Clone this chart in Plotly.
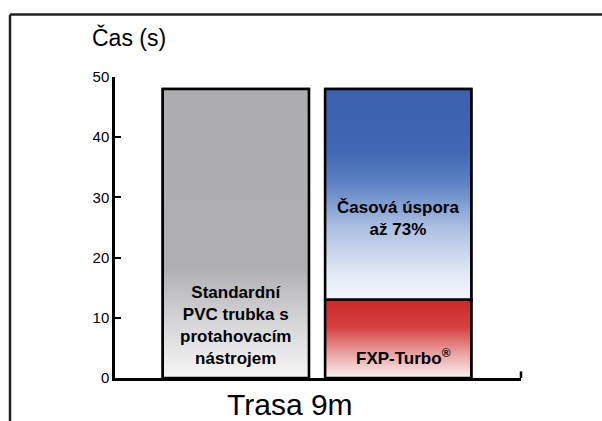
import plotly.graph_objects as go

# ---- data ----
bar_positions = [0, 1]
bar_labels = ["Standardní<br>PVC trubka s<br>protahovacím<br>nástrojem", "FXP-Turbo<sup>®</sup>"]
pvc_time = [48]          # seconds, standard PVC tube with pulling tool
fxp_time = [13]          # seconds, FXP-Turbo
saving_label = "Časová úspora<br>až 73%"
y_ticks = [0, 10, 20, 30, 40, 50]
y_title = "Čas (s)"
x_title = "Trasa 9m"

BAR_W = 0.9
FONT = "Liberation Sans, Arial, sans-serif"

gray_scale = [[0, "#f6f6f7"], [0.2, "#d4d4d6"], [0.38, "#b0b0b3"], [1, "#adadb0"]]
blue_scale = [[0, "#f4f7fc"], [0.12, "#e3eaf5"], [0.35, "#a9bde0"], [0.55, "#5f82c4"],
              [0.7, "#4068b4"], [1, "#3a60ae"]]
red_scale = [[0, "#fbf0f0"], [0.3, "#eaa6a6"], [0.65, "#d5403f"], [1, "#cc2828"]]

fig = go.Figure()

saving = [pvc_time[0] - fxp_time[0]]

# base bars
fig.add_trace(go.Bar(x=[bar_positions[0]], y=pvc_time, width=BAR_W,
                     marker=dict(color="#adadb0", line=dict(color="black", width=2.5)),
                     showlegend=False, hoverinfo="skip"))
fig.add_trace(go.Bar(x=[bar_positions[1]], y=fxp_time, width=BAR_W,
                     marker=dict(color="#cc2828", line=dict(color="black", width=2.5)),
                     showlegend=False, hoverinfo="skip"))
fig.add_trace(go.Bar(x=[bar_positions[1]], y=saving, base=fxp_time, width=BAR_W,
                     marker=dict(color="#3a60ae", line=dict(color="black", width=2.5)),
                     showlegend=False, hoverinfo="skip"))


def gradient_rect(xc, y0, y1, scale):
    x0, x1 = xc - BAR_W / 2, xc + BAR_W / 2
    fig.add_trace(go.Scatter(
        x=[x0, x0, x1, x1, x0], y=[y0, y1, y1, y0, y0],
        mode="lines", fill="toself",
        fillgradient=dict(type="vertical", colorscale=scale, start=y0, stop=y1),
        line=dict(color="black", width=2.5),
        showlegend=False, hoverinfo="skip"))


gradient_rect(bar_positions[0], 0, pvc_time[0], gray_scale)
gradient_rect(bar_positions[1], fxp_time[0], pvc_time[0], blue_scale)
gradient_rect(bar_positions[1], 0, fxp_time[0], red_scale)

annotations = [
    dict(x=bar_positions[0], y=pvc_time[0] * 0.18, xref="x", yref="y", text="<b>" + bar_labels[0] + "</b>",
         showarrow=False, font=dict(family=FONT, size=17, color="black"), align="center"),
    dict(x=bar_positions[1], y=fxp_time[0] + saving[0] * 0.385, xref="x", yref="y", text="<b>" + saving_label + "</b>",
         showarrow=False, font=dict(family=FONT, size=17, color="black"), align="center"),
    dict(x=bar_positions[1], y=fxp_time[0] * 0.27, xref="x", yref="y", text="<b>" + bar_labels[1] + "</b>",
         showarrow=False, font=dict(family=FONT, size=17, color="black"), align="center", xshift=5),
    dict(x=0.034, y=1.13, xref="paper", yref="paper", text=y_title, showarrow=False,
         xanchor="center", yanchor="middle", font=dict(family=FONT, size=23, color="black")),
    dict(x=0.43, y=-0.088, xref="paper", yref="paper", text=x_title, showarrow=False,
         xanchor="center", yanchor="middle", font=dict(family=FONT, size=30, color="black")),
]

shapes = [
    # frame (top and left)
    dict(type="line", xref="paper", yref="paper", x0=-0.2586, x1=1.21, y0=1.2076, y1=1.2076,
         line=dict(color="#222", width=2.5)),
    dict(type="line", xref="paper", yref="paper", x0=-0.2586, x1=-0.2586, y0=1.2076, y1=-0.16,
         line=dict(color="#222", width=2.5)),
    # end tick of x axis
    dict(type="line", xref="paper", yref="paper", x0=1, x1=1, y0=0, y1=0.022,
         line=dict(color="black", width=2.5)),
]

fig.update_layout(
    width=602, height=421,
    margin=dict(l=115, r=81, t=77, b=43),
    paper_bgcolor="white", plot_bgcolor="white",
    barmode="overlay",
    showlegend=False,
    annotations=annotations,
    shapes=shapes,
    font=dict(family=FONT, color="black"),
)
fig.update_xaxes(range=[-0.744, 1.756], showgrid=False, zeroline=False,
                 showticklabels=False, ticks="", showline=True,
                 linecolor="black", linewidth=2.5)
fig.update_yaxes(range=[0, 50], tickvals=y_ticks, ticktext=[str(v) for v in y_ticks],
                 showgrid=False, zeroline=False, showline=True, linecolor="black", linewidth=2.5,
                 ticks="inside", ticklen=6, tickwidth=2, tickcolor="black",
                 tickfont=dict(family=FONT, size=15, color="black"))

fig.write_html("out.html", config={"displayModeBar": False},
               post_script="document.body.style.margin='0';document.body.style.overflow='hidden';")
